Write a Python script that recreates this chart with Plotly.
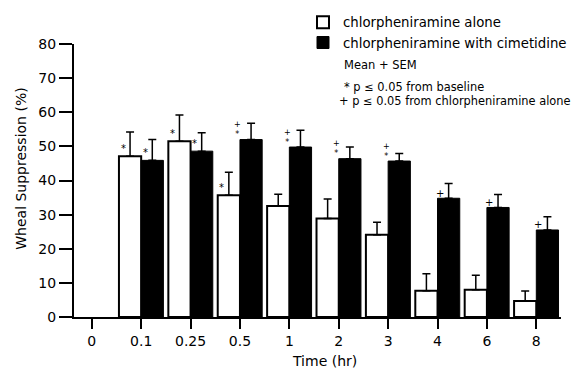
import plotly.graph_objects as go

# ---- data ----
categories = ["0", "0.1", "0.25", "0.5", "1", "2", "3", "4", "6", "8"]
alone_mean = [None, 47.1, 51.5, 35.7, 32.5, 28.9, 24.1, 7.7, 8.0, 4.7]
alone_sem = [None, 7.1, 7.7, 6.7, 3.5, 5.7, 3.7, 5.0, 4.2, 2.9]
cim_mean = [None, 45.9, 48.6, 52.0, 49.8, 46.4, 45.7, 34.8, 32.1, 25.5]
cim_sem = [None, 6.1, 5.4, 4.8, 4.9, 3.4, 2.2, 4.3, 3.8, 3.9]
sig_alone = ["", "*", "*", "*", "", "", "", "", "", ""]
sig_cim = ["", "*", "*", "+*", "+*", "+*", "+*", "+", "+", "+"]
y_ticks = [0, 10, 20, 30, 40, 50, 60, 70, 80]

FONT = "DejaVu Sans"
PLOT_H = 273.5

fig = go.Figure()
fig.add_trace(go.Bar(
    x=categories, y=alone_mean, name="chlorpheniramine alone",
    marker=dict(color="white", line=dict(color="black", width=2)),
    error_y=dict(type="data", array=alone_sem, symmetric=False,
                 arrayminus=[0] * len(categories), color="black",
                 thickness=1.5, width=4),
))
fig.add_trace(go.Bar(
    x=categories, y=cim_mean, name="chlorpheniramine with cimetidine",
    marker=dict(color="black", line=dict(color="black", width=1)),
    error_y=dict(type="data", array=cim_sem, symmetric=False,
                 arrayminus=[0] * len(categories), color="black",
                 thickness=1.5, width=4),
))

# significance markers, anchored on the bar tops
annotations = []
BAR_OFF = 11  # px from category centre to bar centre


def add_marks(values, marks, side):
    for idx, (v, m) in enumerate(zip(values, marks)):
        if not m or v is None:
            continue
        if m == "*":
            txt, dx, up, size = "*", -7, 8, 10
        elif m == "+":
            txt, dx, up, size = "+", -9, 5, 10
        else:
            txt, dx, up, size = "+<br>*", -13, 10, 8
        annotations.append(dict(
            x=idx, y=v, xref="x", yref="y", text=txt, showarrow=False,
            xshift=side * BAR_OFF + dx, yshift=up,
            xanchor="center", yanchor="middle",
            font=dict(family=FONT, size=size, color="black"),
        ))


add_marks(alone_mean, sig_alone, -1)
add_marks(cim_mean, sig_cim, 1)


def py(pix):
    return (317.5 - pix) / PLOT_H


def px(pix):
    return (pix - 74) / 487


annotations += [
    dict(x=px(342), y=py(65), xref="paper", yref="paper",
         text="Mean + SEM", showarrow=False, xanchor="left", yanchor="middle",
         font=dict(family=FONT, size=11.5, color="black")),
    dict(x=px(342), y=py(87), xref="paper", yref="paper",
         text="* p \u2264 0.05 from baseline", showarrow=False,
         xanchor="left", yanchor="middle",
         font=dict(family=FONT, size=11.4, color="black")),
    dict(x=px(337), y=py(101), xref="paper", yref="paper",
         text="+ p \u2264 0.05 from chlorpheniramine alone", showarrow=False,
         xanchor="left", yanchor="middle",
         font=dict(family=FONT, size=11.4, color="black")),
    dict(x=px(324), y=py(362), xref="paper", yref="paper",
         text="Time (hr)", showarrow=False, xanchor="center", yanchor="middle",
         font=dict(family=FONT, size=14, color="black")),
    dict(x=px(21), y=py(169), xref="paper", yref="paper",
         text="Wheal Suppression (%)", showarrow=False, textangle=-90,
         xanchor="center", yanchor="middle",
         font=dict(family=FONT, size=14, color="black")),
]

fig.update_layout(
    width=575, height=373,
    margin=dict(l=74, r=14, t=44, b=55.5, pad=0, autoexpand=False),
    paper_bgcolor="white", plot_bgcolor="white",
    barmode="group", bargap=0.1, bargroupgap=0.0,
    font=dict(family=FONT, size=14, color="black"),
    showlegend=True,
    legend=dict(x=px(303), y=py(7),
                xanchor="left", yanchor="top", bgcolor="rgba(0,0,0,0)",
                font=dict(family=FONT, size=13.3, color="black"),
                traceorder="normal", itemwidth=30),
    annotations=annotations,
    xaxis=dict(type="category", range=[-0.36, 9.5], showgrid=False,
               zeroline=False, showline=True, linecolor="black", linewidth=2,
               ticks="outside", ticklen=10, tickwidth=1.5, tickcolor="black",
               tickfont=dict(family=FONT, size=14)),
    yaxis=dict(range=[0, 80], tickvals=y_ticks, showgrid=False,
               zeroline=False, showline=True, linecolor="black", linewidth=2,
               ticks="outside", ticklen=13, tickwidth=1.5, tickcolor="black",
               tickfont=dict(family=FONT, size=14)),
)

fig.write_html("out.html",
               config={"displayModeBar": False},
               post_script="document.body.style.margin='0';"
                           "document.body.style.overflow='hidden';")
